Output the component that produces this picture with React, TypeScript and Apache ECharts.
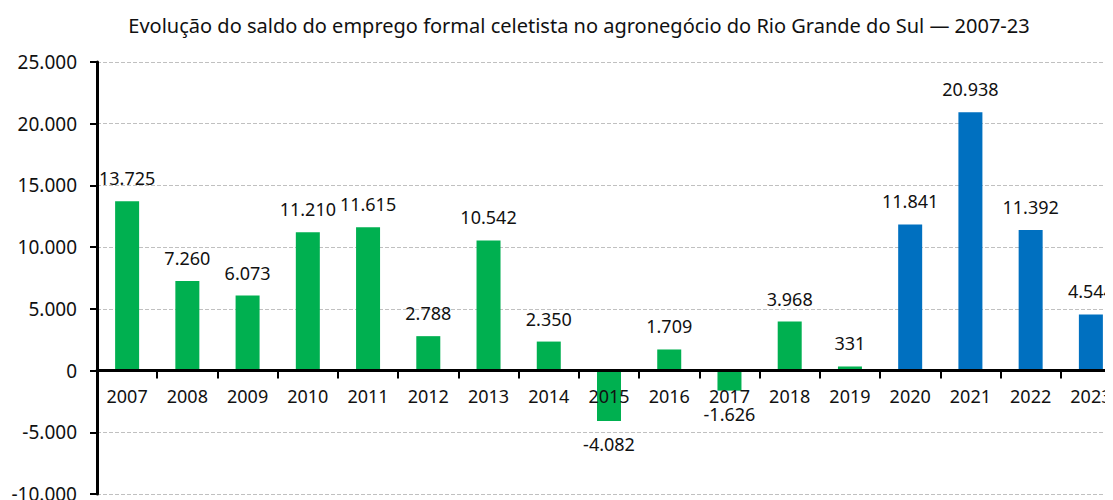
import React, { useEffect, useRef } from "react";
import * as echarts from "echarts";

const titleText =
  "Evolução do saldo do emprego formal celetista no agronegócio do Rio Grande do Sul — 2007-23";
const years = [
  "2007", "2008", "2009", "2010", "2011", "2012", "2013", "2014", "2015",
  "2016", "2017", "2018", "2019", "2020", "2021", "2022", "2023",
];
const saldo = [
  13725, 7260, 6073, 11210, 11615, 2788, 10542, 2350, -4082,
  1709, -1626, 3968, 331, 11841, 20938, 11392, 4544,
];
const highlightFromYear = "2020";
const yMin = -10000;
const yMax = 25000;
const yInterval = 5000;
const axisZero = 0;

const FONT = "Noto Sans";
const GREEN = "#00b050";
const BLUE = "#0070c0";

function fmt(v: number): string {
  const s = Math.abs(Math.round(v)).toString().replace(/\B(?=(\d{3})+(?!\d))/g, ".");
  return (v < 0 ? "-" : "") + s;
}

export default function App() {
  const ref = useRef<HTMLDivElement>(null);
  useEffect(() => {
    if (!ref.current) return;
    const chart = echarts.init(ref.current, undefined, { renderer: "svg" });
    const hlIndex = years.indexOf(highlightFromYear);
    chart.setOption({
      animation: false,
      title: {
        text: titleText,
        left: 566,
        top: 2,
        textAlign: "center",
        textStyle: { fontFamily: FONT, fontSize: 20, fontWeight: "normal", color: "#111" },
      },
      grid: { left: 89, right: 27, top: 54, bottom: 34, containLabel: false },
      xAxis: {
        type: "category",
        data: years,
        z: 10,
        axisLine: { onZero: true, lineStyle: { color: "#000", width: 3 } },
        axisTick: { show: true, length: 8, lineStyle: { color: "#000", width: 2 } },
        axisLabel: { show: false },
        splitLine: { show: false },
      },
      yAxis: {
        type: "value",
        min: yMin,
        max: yMax,
        interval: yInterval,
        axisLine: { show: true, lineStyle: { color: "#000", width: 3 } },
        axisTick: { show: true, length: 7, lineStyle: { color: "#000", width: 2 } },
        axisLabel: {
          fontFamily: FONT,
          fontSize: 19,
          color: "#111",
          margin: 20,
          formatter: (v: number) => fmt(v),
        },
        splitLine: { show: true, lineStyle: { color: "#c0c0c0", type: "dashed", width: 1 } },
      },
      series: [
        {
          type: "bar",
          barWidth: 24,
          data: saldo.map((v) => ({
            value: v,
            label: { position: v < 0 ? "bottom" : "top" },
          })),
          itemStyle: {
            color: (p: any) => (p.dataIndex >= hlIndex ? BLUE : GREEN),
          },
          label: {
            show: true,
            distance: 14,
            fontFamily: FONT,
            fontSize: 18,
            color: "#111",
            formatter: (p: any) => fmt(p.value),
          },
        },
        {
          type: "scatter",
          name: "categoryLabels",
          z: 5,
          silent: true,
          symbolSize: 0,
          itemStyle: { opacity: 1 },
          data: years.map((y) => [y, axisZero]),
          label: {
            show: true,
            position: "bottom",
            distance: 16,
            fontFamily: FONT,
            fontSize: 18,
            color: "#111",
            opacity: 1,
            formatter: (p: any) => p.value[0],
          },
        },
      ],
    });
    return () => chart.dispose();
  }, []);
  return (
    <div style={{ width: 1105, height: 492, overflow: "hidden", position: "relative" }}>
      <div ref={ref} style={{ width: 1140, height: 520 }} />
    </div>
  );
}
